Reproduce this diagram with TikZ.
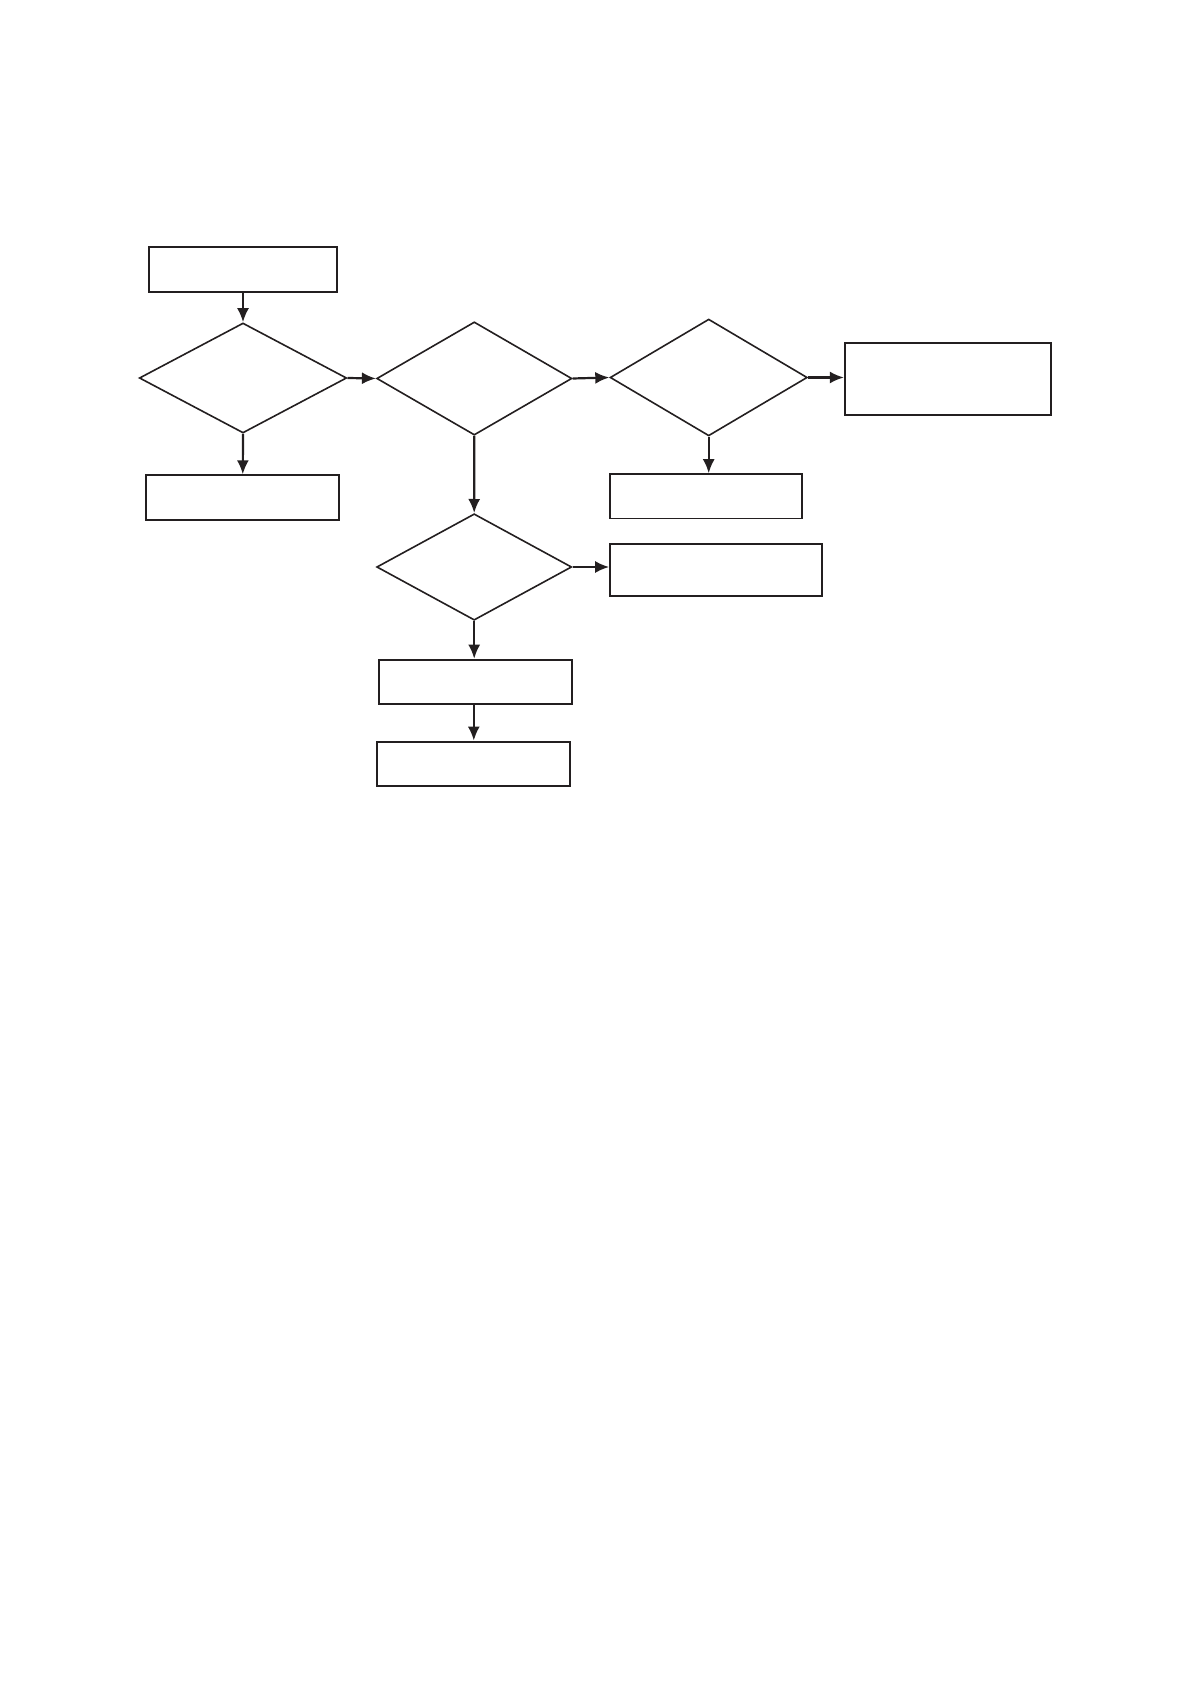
\documentclass[tikz,border=0pt]{standalone}
\usetikzlibrary{shapes.geometric,arrows.meta}
\definecolor{ink}{HTML}{231F20}
\begin{document}
\begin{tikzpicture}[x=0.5pt,y=-0.5pt,
  boxnode/.style={draw=ink,line width=1pt,rectangle,inner sep=0pt,fill=white},
  decision/.style={draw=ink,line width=0.8pt,diamond,inner sep=0pt,aspect=1},
  flow/.style={draw=ink,line width=1.1pt,-{Latex[length=7pt,width=6pt]}}]
\useasboundingbox (0,0) rectangle (1192,1684);
% boxes
\node[boxnode,minimum width=93.7pt,minimum height=22.2pt] (A) at (243,269.5) {};
\node[boxnode,minimum width=96.5pt,minimum height=22.4pt] (B) at (242.8,497.7) {};
\node[boxnode,line width=0.8pt,minimum width=96pt,minimum height=22.2pt] (C) at (706,496.2) {};
\node[boxnode,line width=0.8pt,minimum width=103pt,minimum height=36pt] (D) at (947.7,379.3) {};
\node[boxnode,minimum width=106pt,minimum height=26pt] (E) at (716.2,570) {};
\node[boxnode,minimum width=96.5pt,minimum height=22.3pt] (F) at (475.8,682) {};
\node[boxnode,minimum width=96.5pt,minimum height=22.2pt] (G) at (473.8,763.8) {};
% decisions
\node[decision,minimum width=103.7pt,minimum height=55pt] (d1) at (243,378) {};
\node[decision,minimum width=97.6pt,minimum height=56.6pt] (d2) at (474.3,378.5) {};
\node[decision,minimum width=98.6pt,minimum height=58.4pt] (d3) at (708.7,377.5) {};
\node[decision,minimum width=97.5pt,minimum height=53.2pt] (d4) at (474.2,567) {};
% connectors
\draw[flow] (A.south) -- (d1.north);
\draw[flow] (d1.east) -- (d2.west);
\draw[flow] (d1.south) -- (B.north);
\draw[flow] (d2.east) -- (d3.west);
\draw[flow] (d3.east) -- (d3.east -| D.west);
\draw[flow] (d3.south) -- (d3.south |- C.north);
\draw[flow] (d2.south) -- (d4.north);
\draw[flow] (d4.east) -- (d4.east -| E.west);
\draw[flow] (d4.south) -- (d4.south |- F.north);
\draw[flow] (F.south -| G.north) -- (G.north);
\end{tikzpicture}
\end{document}
